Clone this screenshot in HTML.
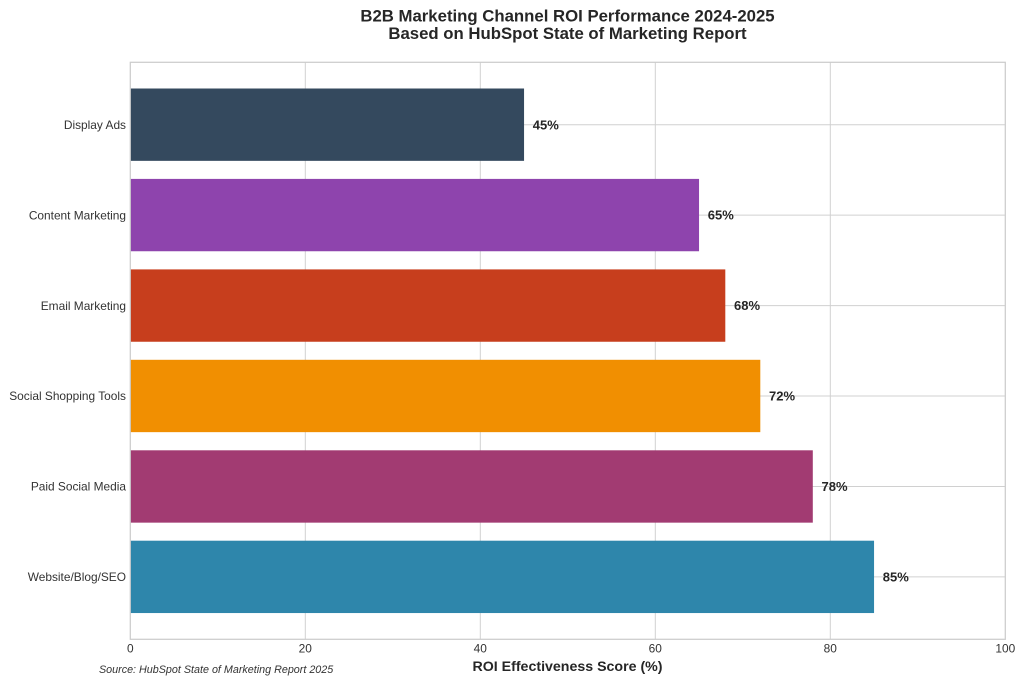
<!DOCTYPE html>
<html><head><meta charset="utf-8"><style>
html,body{margin:0;padding:0;background:#fff;}
svg{display:block;}
text{font-family:"Liberation Sans",Arial,sans-serif;}
</style></head><body>
<svg width="1024" height="684" viewBox="0 0 1024 684" xmlns="http://www.w3.org/2000/svg">
<rect width="1024" height="684" fill="#fff"/>
<text x="567.5" y="21.5" text-anchor="middle" font-size="16.75" font-weight="bold" fill="#262626">B2B Marketing Channel ROI Performance 2024-2025</text>
<text x="567.5" y="39" text-anchor="middle" font-size="16.75" font-weight="bold" fill="#262626">Based on HubSpot State of Marketing Report</text>
<g stroke="#d0d0d0" stroke-width="1">
<line x1="305.3" y1="62.3" x2="305.3" y2="639.3"/>
<line x1="480.3" y1="62.3" x2="480.3" y2="639.3"/>
<line x1="655.3" y1="62.3" x2="655.3" y2="639.3"/>
<line x1="830.3" y1="62.3" x2="830.3" y2="639.3"/>
<line x1="130.3" y1="124.7" x2="1005.3" y2="124.7"/>
<line x1="130.3" y1="215.1" x2="1005.3" y2="215.1"/>
<line x1="130.3" y1="305.6" x2="1005.3" y2="305.6"/>
<line x1="130.3" y1="396.0" x2="1005.3" y2="396.0"/>
<line x1="130.3" y1="486.5" x2="1005.3" y2="486.5"/>
<line x1="130.3" y1="576.9" x2="1005.3" y2="576.9"/>
</g>
<g>
<rect x="130.3" y="88.5" width="393.75" height="72.35" fill="#34495e"/>
<rect x="130.3" y="178.9" width="568.75" height="72.35" fill="#8e44ad"/>
<rect x="130.3" y="269.4" width="595" height="72.35" fill="#c73e1d"/>
<rect x="130.3" y="359.8" width="630" height="72.35" fill="#f18f01"/>
<rect x="130.3" y="450.3" width="682.5" height="72.35" fill="#a23b72"/>
<rect x="130.3" y="540.7" width="743.75" height="72.35" fill="#2e86ab"/>
</g>
<rect x="130.3" y="62.3" width="875" height="577" fill="none" stroke="#cccccc" stroke-width="1.25"/>
<g font-size="13" font-weight="bold" fill="#262626">
<text x="532.8" y="129.3">45%</text>
<text x="707.8" y="219.7">65%</text>
<text x="734" y="310.2">68%</text>
<text x="769" y="400.6">72%</text>
<text x="821.5" y="491.1">78%</text>
<text x="882.8" y="581.5">85%</text>
</g>
<g font-size="11.9" fill="#333" text-anchor="end">
<text x="126" y="128.9">Display Ads</text>
<text x="126" y="219.3">Content Marketing</text>
<text x="126" y="309.8">Email Marketing</text>
<text x="126" y="400.2">Social Shopping Tools</text>
<text x="126" y="490.7">Paid Social Media</text>
<text x="126" y="581.1">Website/Blog/SEO</text>
</g>
<g font-size="11.9" fill="#333" text-anchor="middle">
<text x="130.3" y="652.7">0</text>
<text x="305.3" y="652.7">20</text>
<text x="480.3" y="652.7">40</text>
<text x="655.3" y="652.7">60</text>
<text x="830.3" y="652.7">80</text>
<text x="1005.3" y="652.7">100</text>
</g>
<text x="567.5" y="671" text-anchor="middle" font-size="14.2" font-weight="bold" fill="#262626">ROI Effectiveness Score (%)</text>
<text x="99" y="673" font-size="10.75" font-style="italic" fill="#333">Source: HubSpot State of Marketing Report 2025</text>
</svg>
</body></html>
